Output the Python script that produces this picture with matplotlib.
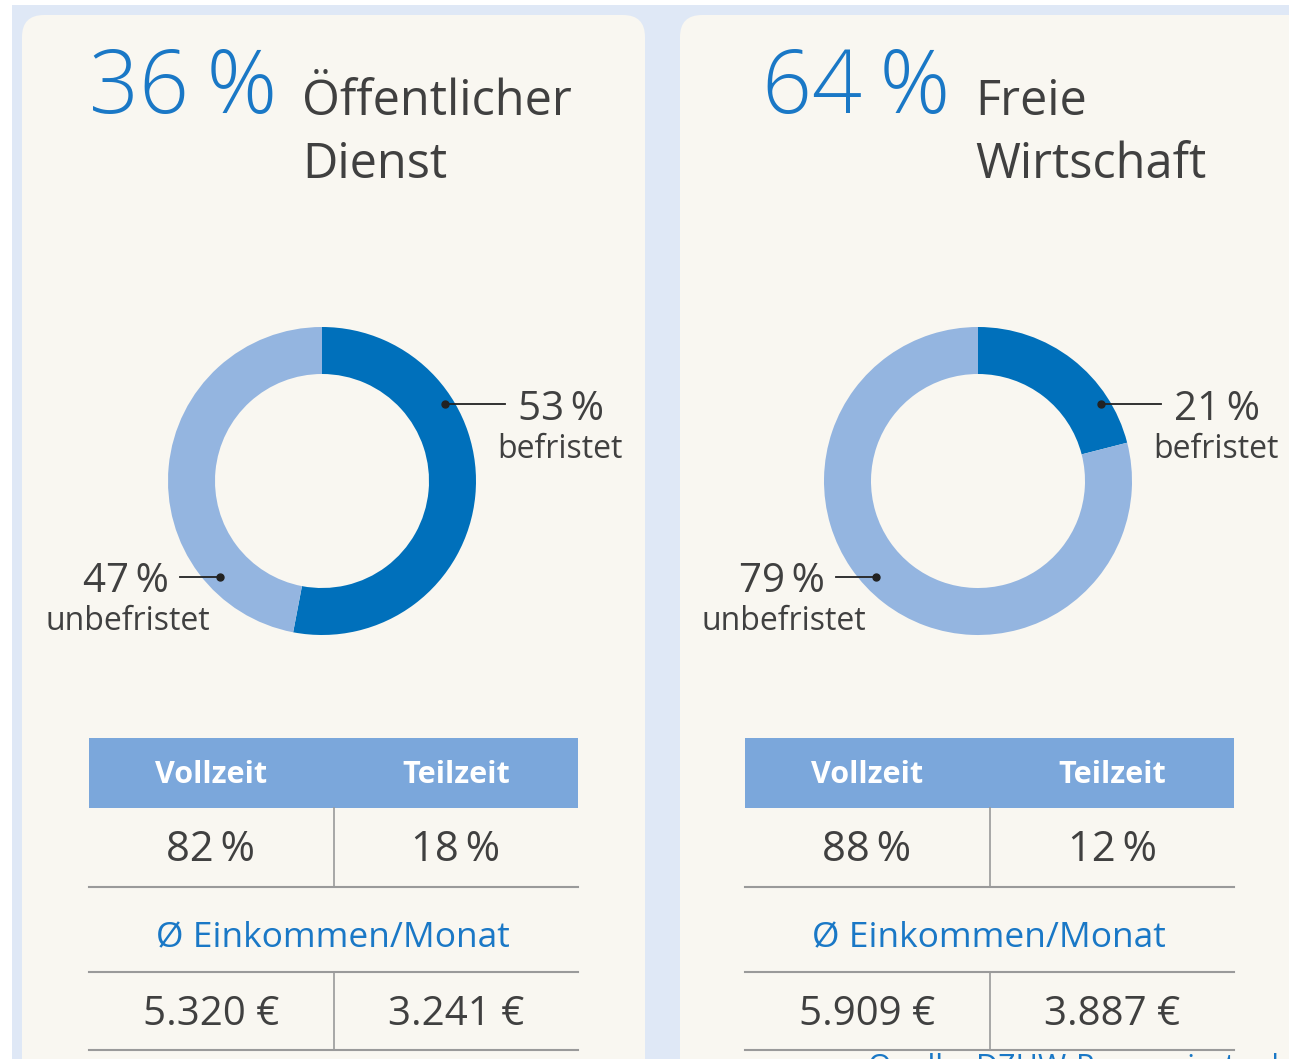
import matplotlib
matplotlib.use("Agg")
import matplotlib.pyplot as plt
from matplotlib.patches import FancyBboxPatch, Rectangle
import numpy as np

# data
sectors = ["Öffentlicher\nDienst", "Freie\nWirtschaft"]
sector_share = [36, 64]
befristet = [53, 21]
unbefristet = [47, 79]
vollzeit = [82, 88]
teilzeit = [18, 12]
eink_vollzeit = ["5.320 €", "5.909 €"]
eink_teilzeit = ["3.241 €", "3.887 €"]
col_labels = ["Vollzeit", "Teilzeit"]

W, H = 1289, 1059
BG_BLUE = "#dfe8f6"
CREAM = "#f9f7f1"
DARK = "#0070bb"
LIGHT = "#94b5e0"
HEAD = "#7ba7db"
TXT = "#404040"
BLUE_TXT = "#1a78c6"
LINE = "#9a9a9a"
TS = "\u2009"  # thin space before %

plt.rcParams['font.family'] = ['Open Sans', 'DejaVu Sans']

fig = plt.figure(figsize=(W / 100, H / 100), dpi=100)
fig.patch.set_facecolor("white")
ax = fig.add_axes([0, 0, 1, 1])
ax.set_xlim(0, W)
ax.set_ylim(H, 0)
ax.axis("off")

# background strip + cards
ax.add_patch(Rectangle((12, 5), W, H, facecolor=BG_BLUE, edgecolor="none"))
card_x = [22, 680]
card_w = [623, 640]
for cx, cw in zip(card_x, card_w):
    ax.add_patch(FancyBboxPatch((cx, 15), cw, 1200, boxstyle="round,pad=0,rounding_size=22",
                                facecolor=CREAM, edgecolor="none"))

# offsets of the two panels
off = [0, 656]
head_off = [0, 673]
R_OUT, R_IN = 154, 107

for i in range(2):
    dx = off[i]
    hx = head_off[i]
    # header
    ax.text(89 + hx, 113, f"{sector_share[i]}{TS}%", color=BLUE_TXT, fontsize=63,
            fontweight="light", ha="left", va="baseline")
    l1, l2 = sectors[i].split("\n")
    ax.text(302 + hx, 115, l1, color=TXT, fontsize=35, ha="left", va="baseline")
    ax.text(302 + hx, 178, l2, color=TXT, fontsize=35, ha="left", va="baseline")

    # donut
    cx, cy = 322 + dx, 481
    dax = fig.add_axes([(cx - R_OUT) / W, 1 - (cy + R_OUT) / H, 2 * R_OUT / W, 2 * R_OUT / H])
    dax.pie([befristet[i], unbefristet[i]], colors=[DARK, LIGHT], startangle=90,
            counterclock=False, radius=1, wedgeprops=dict(width=(R_OUT - R_IN) / R_OUT, linewidth=0))
    dax.set_xlim(-1, 1)
    dax.set_ylim(-1, 1)
    dax.axis("off")

    # leader dots/lines in donut units (1 unit = R_OUT px)
    a = np.deg2rad(32)
    px, py = 0.94 * np.cos(a), 0.94 * np.sin(a)
    dax.plot([px, px + 60 / R_OUT], [py, py], color="#222222", lw=1.3, clip_on=False, zorder=5)
    dax.plot(px, py, "o", color="#222222", ms=5, clip_on=False, zorder=6)
    a = np.deg2rad(223)
    px, py = 0.91 * np.cos(a), 0.91 * np.sin(a)
    dax.plot([px - 40 / R_OUT, px], [py, py], color="#222222", lw=1.3, clip_on=False, zorder=5)
    dax.plot(px, py, "o", color="#222222", ms=5, clip_on=False, zorder=6)

    ax.text(518 + dx, 420, f"{befristet[i]}{TS}%", color=TXT, fontsize=29, ha="left", va="baseline")
    ax.text(560 + dx, 450, "befristet", color=TXT, fontsize=23, ha="center", va="center")
    ax.text(169 + dx, 592, f"{unbefristet[i]}{TS}%", color=TXT, fontsize=29, ha="right", va="baseline")
    ax.text(128 + dx, 621, "unbefristet", color=TXT, fontsize=23, ha="center", va="center")

    # table
    x0, x1, xm = 89 + dx, 578 + dx, 334 + dx
    ax.add_patch(Rectangle((x0, 738), x1 - x0, 70, facecolor=HEAD, edgecolor="none"))
    ax.text(211 + dx, 775, col_labels[0], color="white", fontsize=22, fontweight="bold",
            ha="center", va="center")
    ax.text(456 + dx, 775, col_labels[1], color="white", fontsize=22, fontweight="bold",
            ha="center", va="center")
    ax.plot([xm, xm], [808, 887], color=LINE, lw=1.2)
    ax.plot([x0, x1], [887, 887], color=LINE, lw=1.5)
    ax.text(211 + dx, 850, f"{vollzeit[i]}{TS}%", color=TXT, fontsize=30, ha="center", va="center")
    ax.text(456 + dx, 850, f"{teilzeit[i]}{TS}%", color=TXT, fontsize=30, ha="center", va="center")
    ax.text(333 + dx, 937, "Ø Einkommen/Monat", color=BLUE_TXT, fontsize=25.5, ha="center", va="center")
    ax.plot([x0, x1], [972, 972], color=LINE, lw=1.5)
    ax.plot([xm, xm], [972, 1050], color=LINE, lw=1.2)
    ax.plot([x0, x1], [1050, 1050], color=LINE, lw=1.5)
    ax.text(211 + dx, 1015, eink_vollzeit[i], color=TXT, fontsize=29, ha="center", va="center")
    ax.text(456 + dx, 1015, eink_teilzeit[i], color=TXT, fontsize=29, ha="center", va="center")

# source line, cut off at the bottom edge as in the original
ax.text(868, 1052, "Quelle: DZHW-Promoviertenbefragung", color=BLUE_TXT, fontsize=22,
        ha="left", va="top", clip_on=False)

fig.savefig("out.png", dpi=100, facecolor=fig.get_facecolor())
